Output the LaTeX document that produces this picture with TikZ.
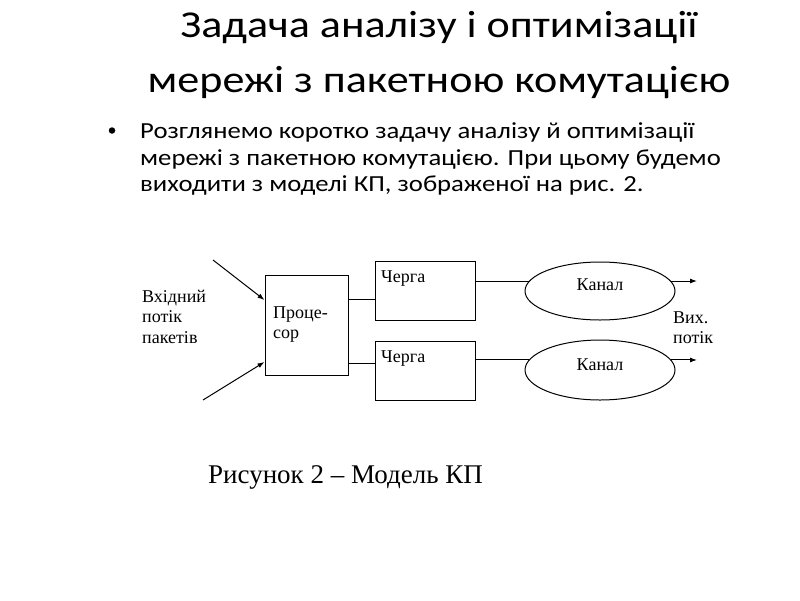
\documentclass[tikz,border=0pt]{standalone}
\usepackage{fontspec}
\setmainfont{Liberation Serif}
\newfontfamily\calib[FakeStretch=1.16]{Carlito}
\usetikzlibrary{shapes.geometric,arrows.meta}
\tikzset{
  box/.style={draw,line width=1pt,rectangle,inner sep=0pt},
  chan/.style={draw,line width=1pt,ellipse,inner sep=0pt,minimum width=150pt},
  conn/.style={line width=1pt},
  arr/.style={line width=1pt,-{Latex[length=7pt,width=5pt]}},
  small/.style={font=\fontsize{18}{20.5}\selectfont,inner sep=0pt,anchor=base west},
  ttl/.style={font=\calib\fontsize{38}{44}\selectfont,inner sep=0pt,anchor=base},
  txt/.style={font=\calib\fontsize{23}{27}\selectfont,inner sep=0pt,anchor=base west},
  dot/.style={circle,fill,inner sep=0pt,minimum size=6.5pt},
}
\begin{document}
\begin{tikzpicture}[x=1pt,y=-1pt]
\useasboundingbox (0,0) rectangle (800,600);
% title
\node[ttl] (title1) at (439,37.5) {Задача аналізу і оптимізації};
\node[ttl] (title2) at (439,92) {мережі з пакетною комутацією};
% body
\node[dot] (bullet) at (112,130.5) {};
\node[txt] (body1) at (140,138.3) {Розглянемо коротко задачу аналізу й оптимізації};
\node[txt] (body2) at (140,165) {мережі з пакетною комутацією. При цьому будемо};
\node[txt] (body3) at (140,191.7) {виходити з моделі КП, зображеної на рис. 2.};
% diagram
\node[box,minimum width=83pt,minimum height=100pt] (proc) at (306.5,325) {};
\node[small] (proct1) at (273,318) {Проце-};
\node[small] (proct2) at (273,338) {сор};
\node[box,minimum width=100pt,minimum height=59pt] (q1) at (425,290.5) {};
\node[box,minimum width=100pt,minimum height=59pt] (q2) at (425,370.5) {};
\node[small] (q1t) at (381,282) {Черга};
\node[small] (q2t) at (381,362) {Черга};
\node[chan,minimum height=58pt] (ch1) at (600,291) {};
\node[chan,minimum height=60pt] (ch2) at (600,370) {};
\node[small,anchor=base] (ch1t) at (600,290) {Канал};
\node[small,anchor=base] (ch2t) at (600,370) {Канал};
\node[small] (inl1) at (142,302) {Вхідний};
\node[small] (inl2) at (142,322.5) {потік};
\node[small] (inl3) at (142,343) {пакетів};
\node[small] (outl1) at (673,323) {Вих.};
\node[small] (outl2) at (673,343) {потік};
\coordinate (in1) at (213,260);
\coordinate (in2) at (203,400);
\coordinate (outx) at (697,0);
\draw[arr] (in1) -- ([yshift=25pt]proc.west);
\draw[arr] (in2) -- ([yshift=-37pt]proc.west);
\draw[conn] ([yshift=26pt]proc.east) -- ([yshift=26pt]proc.east -| q1.west);
\draw[conn] ([yshift=-38pt]proc.east) -- ([yshift=-38pt]proc.east -| q2.west);
\draw[conn] (q1.east |- ch1.172) -- (ch1.172);
\draw[conn] (q2.east |- ch2.172) -- (ch2.172);
\draw[arr] (ch1.8) -- (ch1.8 -| outx);
\draw[arr] (ch2.8) -- (ch2.8 -| outx);
% caption
\node[font=\fontsize{27}{30}\selectfont,anchor=base west,inner sep=0pt] (cap) at (208,483) {Рисунок 2 – Модель КП};
\end{tikzpicture}
\end{document}
